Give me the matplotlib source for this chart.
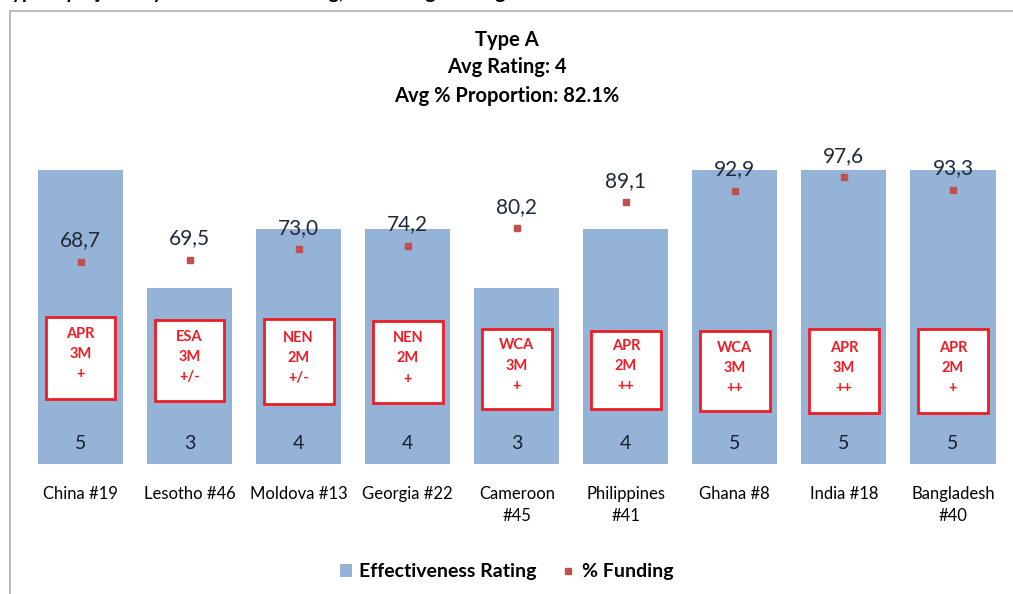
import matplotlib.pyplot as plt
from matplotlib.patches import Rectangle, Patch
from matplotlib.lines import Line2D

plt.rcParams['font.family'] = ['Lato', 'DejaVu Sans']

countries = ["China #19", "Lesotho #46", "Moldova #13", "Georgia #22", "Cameroon\n#45",
             "Philippines\n#41", "Ghana #8", "India #18", "Bangladesh\n#40"]
ratings = [5, 3, 4, 4, 3, 4, 5, 5, 5]
funding = [68.7, 69.5, 73.0, 74.2, 80.2, 89.1, 92.9, 97.6, 93.3]
box_text = ["APR\n3M\n+", "ESA\n3M\n+/-", "NEN\n2M\n+/-", "NEN\n2M\n+", "WCA\n3M\n+",
            "APR\n2M\n++", "WCA\n3M\n++", "APR\n3M\n++", "APR\n2M\n+"]
# box placement (rating-axis units), as drawn in the original
box_top = [2.50, 2.44, 2.46, 2.43, 2.29, 2.26, 2.26, 2.29, 2.29]
box_bottom = [1.10, 1.06, 1.01, 1.03, 0.93, 0.93, 0.89, 0.86, 0.86]

bar_color = '#95B3D7'
dot_color = '#C0504D'
red = '#EE1C25'

fig = plt.figure(figsize=(10.13, 5.94), dpi=100)

# chart border
fig.patches.append(Rectangle((10 / 1013, -0.05), 1.2, 1 - 11 / 594 + 0.05, transform=fig.transFigure,
                             fill=False, edgecolor='#B0B0B0', lw=1.2))
# heading above the chart, mostly cut off by the page edge
fig.text(0.0, 1.0 + 6 / 594, "Type A projects by effectiveness rating, % funding and region",
         ha='left', va='center', fontsize=14, fontweight='bold')

ax = fig.add_axes([26 / 1013, 130.5 / 594, 981.5 / 1013, 352 / 594])
x = list(range(len(countries)))
ax.bar(x, ratings, width=0.78, color=bar_color, zorder=1)
ax.set_xlim(-0.5, 8.5)
ax.set_ylim(0, 6)
ax.set_xticks(x)
ax.set_xticklabels(countries, fontsize=12, linespacing=1.5, va='top')
ax.tick_params(axis='x', length=0, pad=16)
ax.set_yticks([])
for s in ax.spines.values():
    s.set_visible(False)

for i in x:
    ax.text(i, 0.34, str(ratings[i]), ha='center', va='center', fontsize=14, color='#17202C')
    ax.add_patch(Rectangle((i - 0.32, box_bottom[i]), 0.64, box_top[i] - box_bottom[i],
                           facecolor='white', edgecolor=red, lw=2, zorder=3))
    ax.text(i, (box_top[i] + box_bottom[i]) / 2 + 0.06, box_text[i], ha='center', va='center',
            fontsize=10.5, fontweight='bold', color=red, linespacing=1.55, zorder=4)

ax2 = ax.twinx()
ax2.set_ylim(0, 120)
ax2.plot(x, funding, linestyle='none', marker='s', markersize=4.5, color=dot_color, zorder=5)
for i in x:
    ax2.annotate(f"{funding[i]:.1f}".replace('.', ','), (i, funding[i]), xytext=(0, 15.5),
                 textcoords='offset points', ha='center', va='center', fontsize=15, color='#1F2A38')
ax2.set_yticks([])
for s in ax2.spines.values():
    s.set_visible(False)

fig.text(0.5, 1 - 40 / 594, "Type A", ha='center', va='center', fontsize=14.5, fontweight='bold')
fig.text(0.5, 1 - 67 / 594, "Avg Rating: 4", ha='center', va='center', fontsize=14.5, fontweight='bold')
fig.text(0.5, 1 - 96 / 594, "Avg % Proportion: 82.1%", ha='center', va='center', fontsize=14.5,
         fontweight='bold')

handles = [Patch(facecolor=bar_color, edgecolor='none'),
           Line2D([], [], linestyle='none', marker='s', markersize=4.5, color=dot_color)]
fig.legend(handles, ["Effectiveness Rating", "% Funding"], loc='center',
           bbox_to_anchor=(0.5, 1 - 572 / 594), ncol=2, frameon=False,
           prop={'weight': 'bold', 'size': 14}, handlelength=0.6, handleheight=0.6,
           handletextpad=0.4, columnspacing=1.3)

fig.savefig('out.png', dpi=100)
